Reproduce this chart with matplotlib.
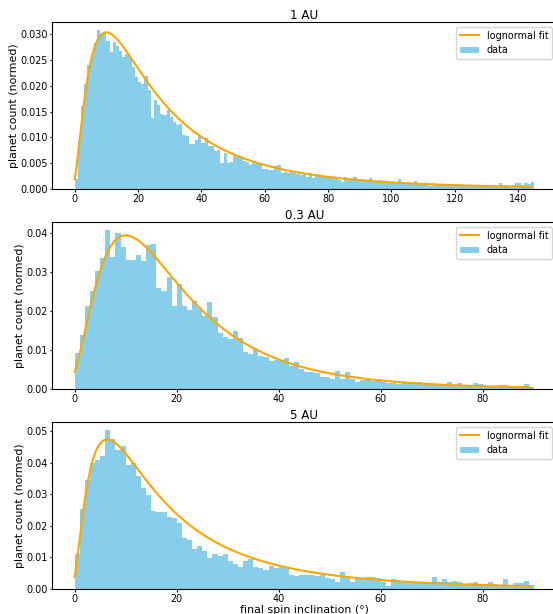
import matplotlib
matplotlib.use("Agg")
import matplotlib.pyplot as plt
import numpy as np

# normalised planet counts in 1-degree bins starting at 0 deg
counts_1au = [
    0.0020, 0.0095, 0.0160, 0.0203, 0.0240, 0.0260, 0.0283, 0.0308, 0.0300, 0.0302,
    0.0287, 0.0266, 0.0284, 0.0276, 0.0267, 0.0256, 0.0262, 0.0254, 0.0237, 0.0216,
    0.0208, 0.0204, 0.0219, 0.0192, 0.0137, 0.0172, 0.0163, 0.0145, 0.0143, 0.0153,
    0.0139, 0.0130, 0.0124, 0.0125, 0.0105, 0.0103, 0.0088, 0.0088, 0.0095, 0.0103,
    0.0090, 0.0098, 0.0083, 0.0083, 0.0074, 0.0075, 0.0050, 0.0070, 0.0051, 0.0053,
    0.0063, 0.0062, 0.0060, 0.0054, 0.0053, 0.0046, 0.0050, 0.0049, 0.0049, 0.0039,
    0.0039, 0.0037, 0.0036, 0.0045, 0.0047, 0.0030, 0.0033, 0.0030, 0.0034, 0.0030,
    0.0029, 0.0027, 0.0029, 0.0024, 0.0030, 0.0021, 0.0029, 0.0027, 0.0026, 0.0024,
    0.0025, 0.0023, 0.0019, 0.0017, 0.0014, 0.0024, 0.0019, 0.0019, 0.0024, 0.0019,
    0.0017, 0.0017, 0.0016, 0.0021, 0.0015, 0.0013, 0.0018, 0.0015, 0.0015, 0.0014,
    0.0014, 0.0014, 0.0019, 0.0012, 0.0012, 0.0011, 0.0012, 0.0015, 0.0010, 0.0011,
    0.0010, 0.0010, 0.0006, 0.0011, 0.0009, 0.0009, 0.0006, 0.0009, 0.0009, 0.0008,
    0.0009, 0.0008, 0.0007, 0.0007, 0.0007, 0.0006, 0.0007, 0.0006, 0.0006, 0.0007,
    0.0006, 0.0005, 0.0006, 0.0006, 0.0012, 0.0007, 0.0007, 0.0006, 0.0008, 0.0011,
    0.0012, 0.0008, 0.0011, 0.0010, 0.0014,
]

counts_03au = [
    0.0092, 0.0139, 0.0213, 0.0253, 0.0303, 0.0338, 0.0409, 0.0340, 0.0402, 0.0366,
    0.0333, 0.0331, 0.0344, 0.0329, 0.0370, 0.0374, 0.0259, 0.0253, 0.0287, 0.0213,
    0.0270, 0.0213, 0.0203, 0.0226, 0.0209, 0.0188, 0.0225, 0.0186, 0.0143, 0.0135,
    0.0128, 0.0148, 0.0132, 0.0096, 0.0090, 0.0103, 0.0085, 0.0083, 0.0073, 0.0075,
    0.0075, 0.0080, 0.0060, 0.0069, 0.0051, 0.0045, 0.0043, 0.0041, 0.0032, 0.0030,
    0.0027, 0.0046, 0.0025, 0.0044, 0.0025, 0.0019, 0.0023, 0.0026, 0.0021, 0.0026,
    0.0019, 0.0016, 0.0015, 0.0013, 0.0015, 0.0015, 0.0012, 0.0017, 0.0012, 0.0010,
    0.0010, 0.0013, 0.0010, 0.0017, 0.0010, 0.0015, 0.0009, 0.0008, 0.0015, 0.0013,
    0.0008, 0.0006, 0.0006, 0.0010, 0.0010, 0.0009, 0.0006, 0.0008, 0.0013, 0.0005,
]

counts_5au = [
    0.0111, 0.0252, 0.0345, 0.0400, 0.0408, 0.0422, 0.0503, 0.0474, 0.0440, 0.0452,
    0.0392, 0.0400, 0.0358, 0.0319, 0.0297, 0.0247, 0.0245, 0.0245, 0.0229, 0.0226,
    0.0208, 0.0160, 0.0155, 0.0127, 0.0136, 0.0121, 0.0099, 0.0111, 0.0104, 0.0110,
    0.0089, 0.0079, 0.0071, 0.0089, 0.0095, 0.0069, 0.0065, 0.0060, 0.0074, 0.0065,
    0.0074, 0.0068, 0.0044, 0.0041, 0.0044, 0.0044, 0.0044, 0.0041, 0.0044, 0.0034,
    0.0032, 0.0023, 0.0053, 0.0040, 0.0023, 0.0036, 0.0036, 0.0039, 0.0037, 0.0034,
    0.0023, 0.0011, 0.0032, 0.0028, 0.0025, 0.0023, 0.0020, 0.0020, 0.0018, 0.0018,
    0.0039, 0.0023, 0.0032, 0.0021, 0.0025, 0.0023, 0.0013, 0.0020, 0.0022, 0.0013,
    0.0015, 0.0022, 0.0016, 0.0013, 0.0032, 0.0013, 0.0019, 0.0020, 0.0025, 0.0012,
]

# lognormal fits: (shape, loc, scale, amplitude, x max)
fit_1au = (0.866, -1.5, 24.3, 1.10, 144.2)
fit_03au = (0.644, -3.5, 20.45, 1.06, 89.3)
fit_5au = (0.89, -1.0, 16.3, 1.157, 89.3)

titles = ["1 AU", "0.3 AU", "5 AU"]


def lognorm(x, s, loc, scale, amp):
    y = x - loc
    return amp * np.exp(-np.log(y / scale) ** 2 / (2 * s ** 2)) / (y * s * np.sqrt(2 * np.pi))


fig = plt.figure(figsize=(5.53, 6.14), dpi=100)
bottoms = [0.6922, 0.3664, 0.0407]
panels = [(counts_1au, fit_1au), (counts_03au, fit_03au), (counts_5au, fit_5au)]

for i, (counts, fit) in enumerate(panels):
    ax = fig.add_axes([0.0935, bottoms[i], 0.9135, 0.272])
    edges = np.arange(len(counts) + 1)
    ax.bar(edges[:-1], counts, width=1, align="edge", color="skyblue",
           linewidth=0, label="data")
    s, loc, scale, amp, xmax = fit
    xs = np.linspace(0, xmax, 400)
    ax.plot(xs, lognorm(xs, s, loc, scale, amp), color="orange", lw=1.5,
            label="lognormal fit")
    ax.set_title(titles[i], fontsize=8.6, pad=2.5)
    ax.set_ylabel("planet count (normed)", fontsize=7.9, labelpad=1.5)
    ax.tick_params(labelsize=6.9, length=1.8, width=0.8)
    ax.tick_params(axis="x", pad=1.8)
    ax.tick_params(axis="y", pad=0.8)
    ax.legend(loc="upper right", fontsize=6.9)
    if i == 2:
        ax.set_xlabel("final spin inclination (\u00b0)", fontsize=7.9, labelpad=1)

fig.savefig("out.png", dpi=100)
